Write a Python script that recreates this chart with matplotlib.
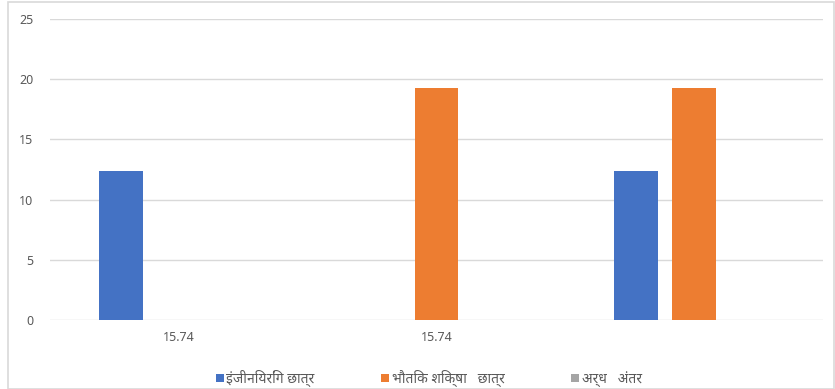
import matplotlib.pyplot as plt
import matplotlib.patches as mpatches
import numpy as np

plt.rcParams['font.family'] = ['Noto Sans', 'DejaVu Sans']

categories = ["15.74", "15.74", ""]
series_names = ["इंजीनियरिंग छात्र", "भौतिक शिक्षा   छात्र", "अर्ध   अंतर"]
engineering = [12.4, 0, 12.4]
physical_ed = [0, 19.3, 19.3]
half_gap = [0, 0, 0]
colors = ["#4472c4", "#ed7d31", "#a5a5a5"]

fig = plt.figure(figsize=(8.35, 3.89), dpi=100)
ax = fig.add_axes([50 / 835, 69 / 389, 773 / 835, 301 / 389])

# outer frame of the chart area
fig.patches.append(mpatches.Rectangle((8 / 835, 0), 826 / 835, 387 / 389,
                                      transform=fig.transFigure, fill=False,
                                      edgecolor="#d9d9d9", lw=1.2))

x = np.arange(len(categories))
w = 0.17
off = 0.225
for i, vals in enumerate([engineering, physical_ed, half_gap]):
    ax.bar(x + (i - 1) * off, vals, width=w, color=colors[i],
           label=series_names[i], zorder=3)

ax.set_xlim(-0.5, 2.5)
ax.set_ylim(0, 25)
ax.set_yticks(range(0, 26, 5))
ax.set_xticks(x)
ax.set_xticklabels(categories)
ax.grid(axis="y", color="#d9d9d9", lw=1, zorder=0)
for s in ax.spines.values():
    s.set_visible(False)
ax.tick_params(length=0, colors="#595959", labelsize=9)
ax.tick_params(axis="x", pad=8)
ax.tick_params(axis="y", pad=12)

ax.legend(loc="upper center", bbox_to_anchor=(0.49, -0.125), ncol=3,
          frameon=False, fontsize=10, handlelength=0.55, handleheight=0.55,
          handletextpad=0.2, columnspacing=4.8, labelcolor="#595959")

fig.savefig("out.png", dpi=100)
